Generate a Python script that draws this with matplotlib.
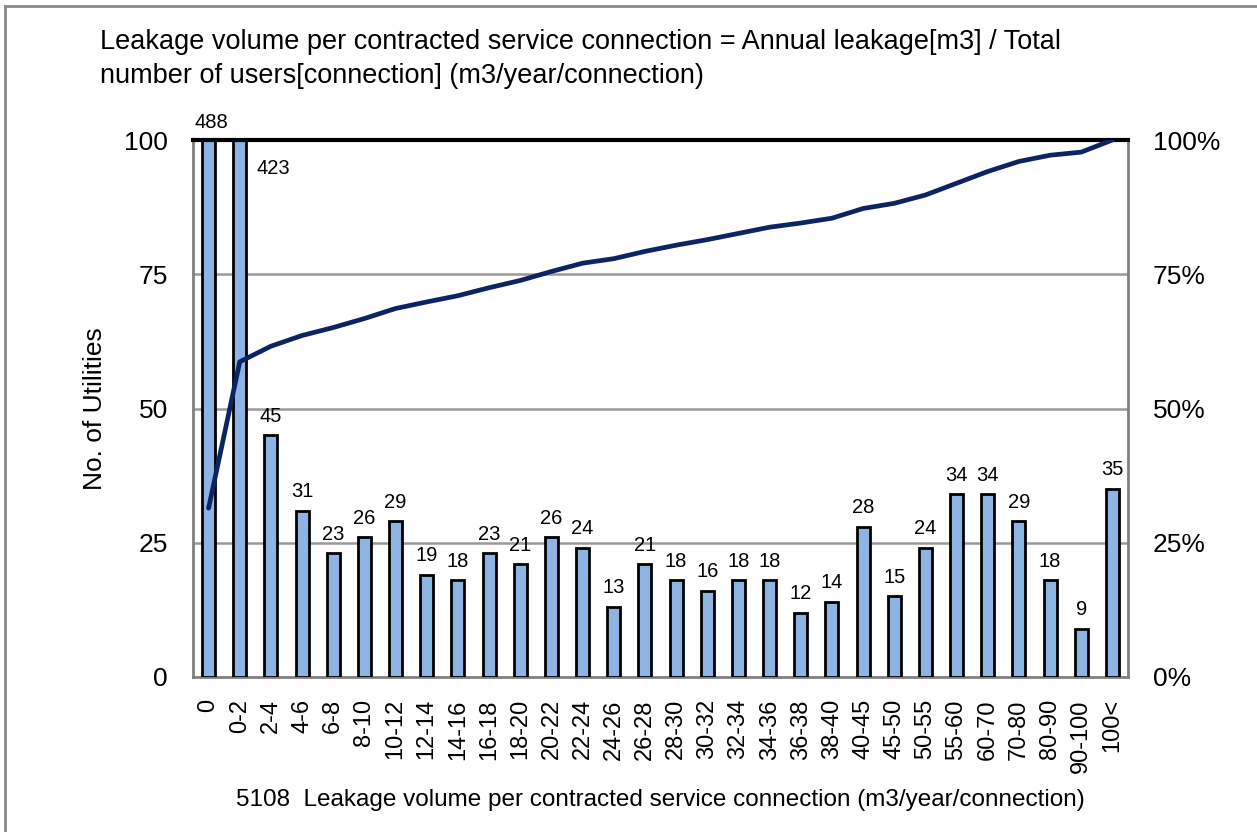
import matplotlib
matplotlib.use("Agg")
import matplotlib.pyplot as plt
from matplotlib.lines import Line2D
import numpy as np

categories = ["0", "0-2", "2-4", "4-6", "6-8", "8-10", "10-12", "12-14", "14-16", "16-18",
              "18-20", "20-22", "22-24", "24-26", "26-28", "28-30", "30-32", "32-34", "34-36",
              "36-38", "38-40", "40-45", "45-50", "50-55", "55-60", "60-70", "70-80", "80-90",
              "90-100", "100<"]
counts = [488, 423, 45, 31, 23, 26, 29, 19, 18, 23, 21, 26, 24, 13, 21, 18, 16, 18, 18,
          12, 14, 28, 15, 24, 34, 34, 29, 18, 9, 35]
left_ticks = [0, 25, 50, 75, 100]
right_ticks = [0, 25, 50, 75, 100]
right_labels = ["0%", "25%", "50%", "75%", "100%"]

title_text = ("Leakage volume per contracted service connection = Annual leakage[m3] / Total\n"
              "number of users[connection] (m3/year/connection)")
xlabel_text = "5108  Leakage volume per contracted service connection (m3/year/connection)"
ylabel_text = "No. of Utilities"

plt.rcParams['font.family'] = ['Liberation Sans', 'DejaVu Sans']

W, H = 1257, 832
fig = plt.figure(figsize=(W / 100, H / 100), dpi=100)
ax = fig.add_axes([193 / W, 1 - 677 / H, (1128 - 193) / W, (677 - 140) / H])

x = np.arange(len(categories))
ax.bar(x, counts, width=0.42, color="#8DB4E2", edgecolor="black", linewidth=2, zorder=3)
ax.set_xlim(-0.5, len(categories) - 0.5)
ax.set_ylim(0, 100)
ax.set_yticks(left_ticks)
ax.set_yticklabels([str(t) for t in left_ticks], fontsize=19)
ax.set_xticks(x)
ax.set_xticklabels(categories, rotation=90, fontsize=17)
ax.tick_params(axis='both', length=0)
ax.tick_params(axis='y', pad=18)
ax.tick_params(axis='x', pad=16)
for t in [25, 50, 75]:
    ax.axhline(t, color="#999999", linewidth=1.8, zorder=1)
for s in ['left', 'right', 'bottom']:
    ax.spines[s].set_color("#808080")
    ax.spines[s].set_linewidth(2)
ax.spines['top'].set_color("black")
ax.spines['top'].set_linewidth(3)
ax.spines['top'].set_zorder(5)
ax.set_ylabel(ylabel_text, fontsize=19, labelpad=12)
ax.set_xlabel(xlabel_text, fontsize=17.5, labelpad=12)

# data labels
lab_font = ['Liberation Sans Narrow', 'Liberation Sans', 'DejaVu Sans']
for i, v in enumerate(counts):
    if v > 100:
        if i == 0:
            ax.annotate(str(v), (i, 100), xytext=(2, 6), textcoords='offset points',
                        ha='center', va='bottom', fontsize=14.5, family=lab_font,
                        annotation_clip=False)
        else:
            ax.annotate(str(v), (i, 100), xytext=(12, -14), textcoords='offset points',
                        ha='left', va='top', fontsize=14.5, family=lab_font,
                        annotation_clip=False)
    else:
        ax.annotate(str(v), (i, v), xytext=(0, 7), textcoords='offset points',
                    ha='center', va='bottom', fontsize=14.5, family=lab_font)

# cumulative share line
ax2 = ax.twinx()
cum = np.cumsum(counts) / np.sum(counts) * 100
ax2.plot(x, cum, color="#0B2463", linewidth=3.4, zorder=4, solid_capstyle='round')
ax2.set_ylim(0, 100)
ax2.set_yticks(right_ticks)
ax2.set_yticklabels(right_labels, fontsize=19)
ax2.tick_params(axis='y', length=0, pad=18)
for s in ax2.spines.values():
    s.set_visible(False)

fig.text(100 / W, 1 - 29 / H, title_text, ha='left', va='top', fontsize=19.5,
         linespacing=1.4)

# figure border (top and left visible)
fig.add_artist(Line2D([5 / W, 1], [1 - 6 / H, 1 - 6 / H], transform=fig.transFigure,
                      color="#8a8a8a", linewidth=2))
fig.add_artist(Line2D([5 / W, 5 / W], [0, 1 - 6 / H], transform=fig.transFigure,
                      color="#8a8a8a", linewidth=2))

fig.savefig("out.png", dpi=100)
